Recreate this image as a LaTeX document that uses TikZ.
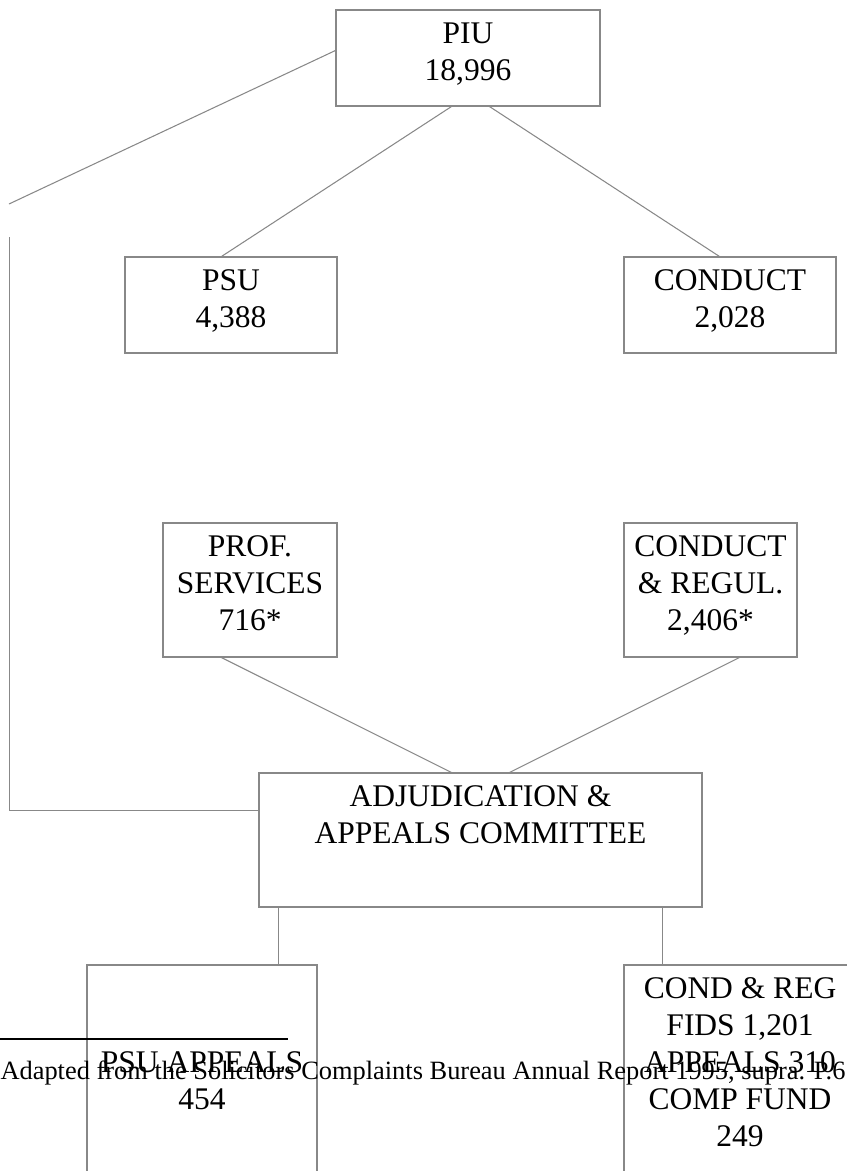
\documentclass[tikz,border=0pt]{standalone}
\usepackage{fontspec}
\setmainfont{Liberation Serif}
\usetikzlibrary{calc,fit}
\definecolor{linegray}{HTML}{888888}
\begin{document}
\begin{tikzpicture}[x=0.38095pt, y=-0.38095pt,
  box/.style={draw=linegray, line width=0.4pt, inner sep=0pt},
  conn/.style={draw=linegray, line width=0.4pt},
  txt/.style={font=\fontsize{12}{13.8}\selectfont, inner sep=0pt, anchor=base},
  fn/.style={font=\fontsize{10.06}{11.5}\selectfont, inner sep=0pt, anchor=base west}]
\useasboundingbox (0,0) rectangle (847,1171);
\clip (0,0) rectangle (847,1171);
% boxes
\node[box, fit={(336,10) (600,106)}] (piu) {};
\node[box, fit={(125,257) (337,353)}] (psu) {};
\node[box, fit={(624,257) (836,353)}] (cond) {};
\node[box, fit={(163,523) (337,657)}] (prof) {};
\node[box, fit={(624,523) (797,657)}] (creg) {};
\node[box, fit={(259,773) (702,907)}] (adj) {};
\node[box, fit={(87,965) (317,1200)}] (psua) {};
\node[box, fit={(624,965) (856,1200)}] (cra) {};
% texts
\node[txt] (piu1) at ($(piu.north)+(0,34)$) {PIU};
\node[txt] (piu2) at ($(piu.north)+(0,71)$) {18,996};
\node[txt] (psu1) at ($(psu.north)+(0,34)$) {PSU};
\node[txt] (psu2) at ($(psu.north)+(0,71)$) {4,388};
\node[txt] (cond1) at ($(cond.north)+(0,34)$) {CONDUCT};
\node[txt] (cond2) at ($(cond.north)+(0,71)$) {2,028};
\node[txt] (prof1) at ($(prof.north)+(0,34)$) {PROF.};
\node[txt] (prof2) at ($(prof.north)+(0,71)$) {SERVICES};
\node[txt] (prof3) at ($(prof.north)+(0,108)$) {716*};
\node[txt] (creg1) at ($(creg.north)+(0,34)$) {CONDUCT};
\node[txt] (creg2) at ($(creg.north)+(0,71)$) {\& REGUL.};
\node[txt] (creg3) at ($(creg.north)+(0,108)$) {2,406*};
\node[txt] (adj1) at ($(adj.north)+(0,34)$) {ADJUDICATION \&};
\node[txt] (adj2) at ($(adj.north)+(0,71)$) {APPEALS COMMITTEE};
\node[txt] (psua1) at ($(psua.north)+(0,108)$) {PSU APPEALS};
\node[txt] (psua2) at ($(psua.north)+(0,145)$) {454};
\node[txt] (cra1) at ($(cra.north)+(0,34)$) {COND \& REG};
\node[txt] (cra2) at ($(cra.north)+(0,71)$) {FIDS 1,201};
\node[txt] (cra3) at ($(cra.north)+(0,108)$) {APPEALS 310};
\node[txt] (cra4) at ($(cra.north)+(0,145)$) {COMP FUND};
\node[txt] (cra5) at ($(cra.north)+(0,182)$) {249};
% connectors
\coordinate (lt) at (9,204);
\coordinate (lb) at (9.5,237);
\draw[conn] ($(piu.north west)+(0,41)$) -- (lt);
\draw[conn] (lb) |- ($(adj.north west)+(0,38)$);
\draw[conn] ($(piu.south west)+(116,0)$) -- ($(psu.north west)+(97,0)$);
\draw[conn] ($(piu.south west)+(154,0)$) -- ($(cond.north west)+(96,0)$);
\draw[conn] ($(prof.south west)+(59,0)$) -- ($(adj.north west)+(193,0)$);
\draw[conn] ($(creg.south west)+(116,0)$) -- ($(adj.north west)+(251,0)$);
\draw[conn] ($(adj.south west)+(20,0)$) -- ($(psua.north west)+(192,0)$);
\draw[conn] ($(adj.south west)+(404,0)$) -- ($(cra.north west)+(39,0)$);
% footnote
\coordinate (fr1) at (0,1039);
\coordinate (fr2) at (288,1039);
\draw[line width=0.76pt] (fr1) -- (fr2);
\node[fn] (note) at (0,1079) {Adapted from the Solicitors Complaints Bureau Annual Report 1995, supra. P.6};
\end{tikzpicture}
\end{document}
